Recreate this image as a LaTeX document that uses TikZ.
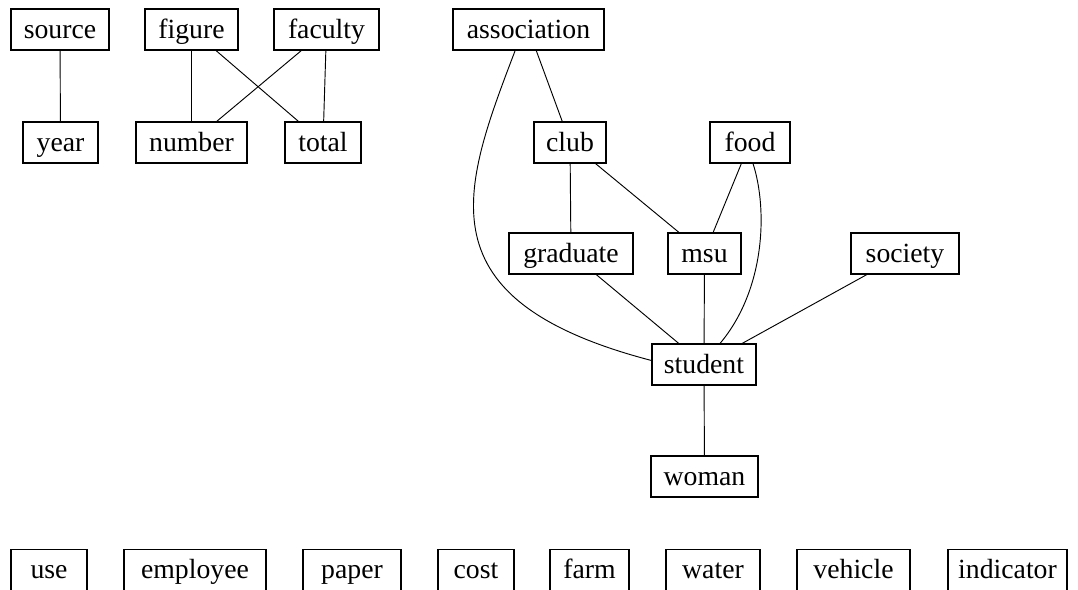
\documentclass[tikz,border=0pt]{standalone}
\usepackage{fontspec}
\setmainfont{Liberation Serif}
\begin{document}
\begin{tikzpicture}[x=0.75pt,y=-0.75pt,
  term/.style={draw, line width=0.8pt, inner sep=0pt, minimum height=30.75pt,
    text height=15.6pt, text depth=2.7pt, font=\fontsize{20.8}{24}\selectfont},
  boxw/.style={minimum width=#1*0.75pt},
  link/.style={line width=0.7pt}]
\useasboundingbox (0,0) rectangle (1078,589);

% top row
\node[term, boxw=98]  (source)      at (60,29.5)    {source};
\node[term, boxw=93]  (figure)      at (191.5,29.5) {figure};
\node[term, boxw=105] (faculty)     at (326.5,29.5) {faculty};
\node[term, boxw=151] (association) at (528.5,29.5) {association};

% second row
\node[term, boxw=75]  (year)   at (60.5,142.5)  {year};
\node[term, boxw=111] (number) at (191.5,142.5) {number};
\node[term, boxw=76]  (total)  at (323,142.5)   {total};
\node[term, boxw=72]  (club)   at (570,142.5)   {club};
\node[term, boxw=80]  (food)   at (750,142.5)   {food};

% third row
\node[term, boxw=124] (graduate) at (571,253.5)   {graduate};
\node[term, boxw=73]  (msu)      at (704.5,253.5) {msu};
\node[term, boxw=108] (society)  at (905,253.5)   {society};

% hub and below
\node[term, boxw=104] (student) at (704,364.5)   {student};
\node[term, boxw=107] (woman)   at (704.5,476.5) {woman};

% isolated terms
\node[term, boxw=76]  (use)       at (49,570)     {use};
\node[term, boxw=142] (employee)  at (195,570)    {employee};
\node[term, boxw=98]  (paper)     at (352,570)    {paper};
\node[term, boxw=76]  (cost)      at (476,570)    {cost};
\node[term, boxw=79]  (farm)      at (589.5,570)  {farm};
\node[term, boxw=94]  (water)     at (713,570)    {water};
\node[term, boxw=113] (vehicle)   at (853.5,570)  {vehicle};
\node[term, boxw=119] (indicator) at (1007.5,570) {indicator};

% connections
\draw[link] (source) -- (year);
\draw[link] (figure) -- (number);
\draw[link] (figure) -- (total);
\draw[link] (faculty) -- (number);
\draw[link] (faculty) -- (total);
\draw[link] (association) -- (club);
\draw[link] ([xshift=-10pt]association.south) .. controls (462,190) and (420,300) .. ([yshift=3pt]student.west);
\draw[link] (club) -- (graduate);
\draw[link] (club) -- (msu);
\draw[link] (food) -- (msu);
\draw[link] ([xshift=2.25pt]food.south) .. controls (768,210) and (765,290) .. ([xshift=12pt]student.north);
\draw[link] (graduate) -- (student);
\draw[link] (msu) -- (student);
\draw[link] (society) -- (student);
\draw[link] (student) -- (woman);
\end{tikzpicture}
\end{document}
